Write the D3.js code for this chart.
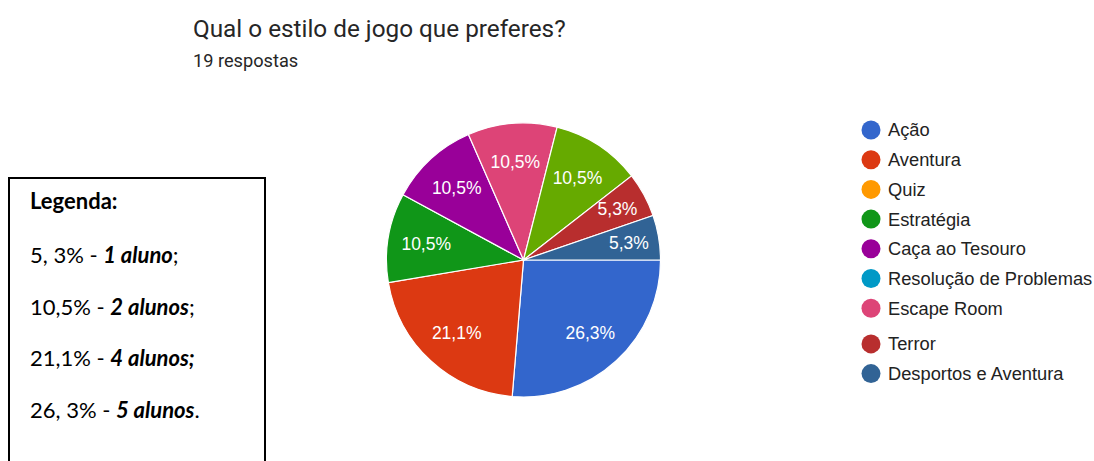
<!DOCTYPE html>
<html>
<head>
<meta charset="utf-8">
<script src="https://cdn.jsdelivr.net/npm/d3@7"></script>
<style>
  html, body { margin: 0; padding: 0; background: #fff; }
  svg { display: block; }
</style>
</head>
<body>
<svg id="chart" width="1094" height="461"></svg>
<script>
// Survey answers: game style preference (19 responses)
const categories = ["Ação", "Aventura", "Quiz", "Estratégia", "Caça ao Tesouro",
  "Resolução de Problemas", "Escape Room", "Outro", "Terror", "Desportos e Aventura"];
const responses = [5, 4, 0, 2, 2, 0, 2, 2, 1, 1];
const percentLabels = ["26,3%", "21,1%", "", "10,5%", "10,5%", "", "10,5%", "10,5%", "5,3%", "5,3%"];
const colors = ["#3366cc", "#dc3912", "#ff9900", "#109618", "#990099",
  "#0099c6", "#dd4477", "#66aa00", "#b82e2e", "#316395"];
// Entries listed in the side legend
const legendItems = ["Ação", "Aventura", "Quiz", "Estratégia", "Caça ao Tesouro",
  "Resolução de Problemas", "Escape Room", "Terror", "Desportos e Aventura"];

// Note box contents
const noteTitle = "Legenda:";
const notePlain = ["5, 3% - ", "10,5% - ", "21,1% - ", "26, 3% - "];
const noteBold = ["1 aluno", "2 alunos", "4 alunos;", "5 alunos"];
const noteTail = [";", ";", "", "."];

const svg = d3.select("#chart");

// Title
svg.append("text")
  .attr("x", 193).attr("y", 37)
  .attr("font-family", "Roboto, sans-serif")
  .attr("font-size", 24.3)
  .attr("fill", "#262626")
  .text("Qual o estilo de jogo que preferes?");
svg.append("text")
  .attr("x", 193).attr("y", 67)
  .attr("font-family", "Roboto, sans-serif")
  .attr("font-size", 18.2)
  .attr("fill", "#262626")
  .text("19 respostas");

// Pie
const cx = 523.5, cy = 260, radius = 137;
const color = d3.scaleOrdinal().domain(categories).range(colors);
const pie = d3.pie().sort(null)
  .value(d => d.value)
  .startAngle(Math.PI / 2)
  .endAngle(Math.PI / 2 + 2 * Math.PI);
const data = categories.map((c, i) => ({ name: c, value: responses[i], label: percentLabels[i] }));
const arcs = pie(data);
const arc = d3.arc().innerRadius(0).outerRadius(radius);
// small slices carry their label a little further out
const labelRadius = d => (d.value < 2 ? 0.78 : 0.72) * radius;

const g = svg.append("g").attr("transform", `translate(${cx},${cy})`);
g.selectAll("path.slice")
  .data(arcs.filter(d => d.value > 0))
  .join("path")
  .attr("class", "slice")
  .attr("d", arc)
  .attr("fill", d => color(d.data.name))
  .attr("stroke", "#fff")
  .attr("stroke-width", 1.2);

g.selectAll("text.pct")
  .data(arcs.filter(d => d.value > 0))
  .join("text")
  .attr("class", "pct")
  .attr("transform", d => {
    const r = labelRadius(d);
    return `translate(${d3.arc().innerRadius(r).outerRadius(r).centroid(d)})`;
  })
  .attr("text-anchor", "middle")
  .attr("dy", "0.35em")
  .attr("font-family", "'Liberation Sans', Arial, sans-serif")
  .attr("font-size", 17.5)
  .attr("fill", "#fff")
  .text(d => d.data.label);

// Side legend
const legendY = (i) => 130 + i * 29.7 + (i >= 7 ? 6 : 0);
const legend = svg.append("g");
const rows = legend.selectAll("g.row")
  .data(legendItems)
  .join("g")
  .attr("class", "row")
  .attr("transform", (d, i) => `translate(0,${legendY(i)})`);
rows.append("circle")
  .attr("cx", 871).attr("cy", 0).attr("r", 9.5)
  .attr("fill", d => color(d));
rows.append("text")
  .attr("x", 888).attr("y", 0)
  .attr("dy", "0.35em")
  .attr("font-family", "'Liberation Sans', Arial, sans-serif")
  .attr("font-size", 18.3)
  .attr("fill", "#222")
  .text(d => d);

// Note box on the left
svg.append("rect")
  .attr("x", 9).attr("y", 178)
  .attr("width", 256).attr("height", 300)
  .attr("fill", "#fff")
  .attr("stroke", "#000")
  .attr("stroke-width", 2);

const noteFont = "Lato, 'Open Sans', sans-serif";
svg.append("text")
  .attr("x", 30).attr("y", 209)
  .attr("font-family", noteFont)
  .attr("font-size", 22)
  .attr("font-weight", "bold")
  .attr("fill", "#000")
  .text(noteTitle);

notePlain.forEach((p, i) => {
  const t = svg.append("text")
    .attr("x", 30).attr("y", 263 + i * 51.7)
    .attr("font-family", noteFont)
    .attr("font-size", 22)
    .attr("fill", "#000");
  t.append("tspan").text(p);
  t.append("tspan").attr("font-weight", "bold").attr("font-style", "italic").text(noteBold[i]);
  t.append("tspan").text(noteTail[i]);
});
</script>
</body>
</html>
